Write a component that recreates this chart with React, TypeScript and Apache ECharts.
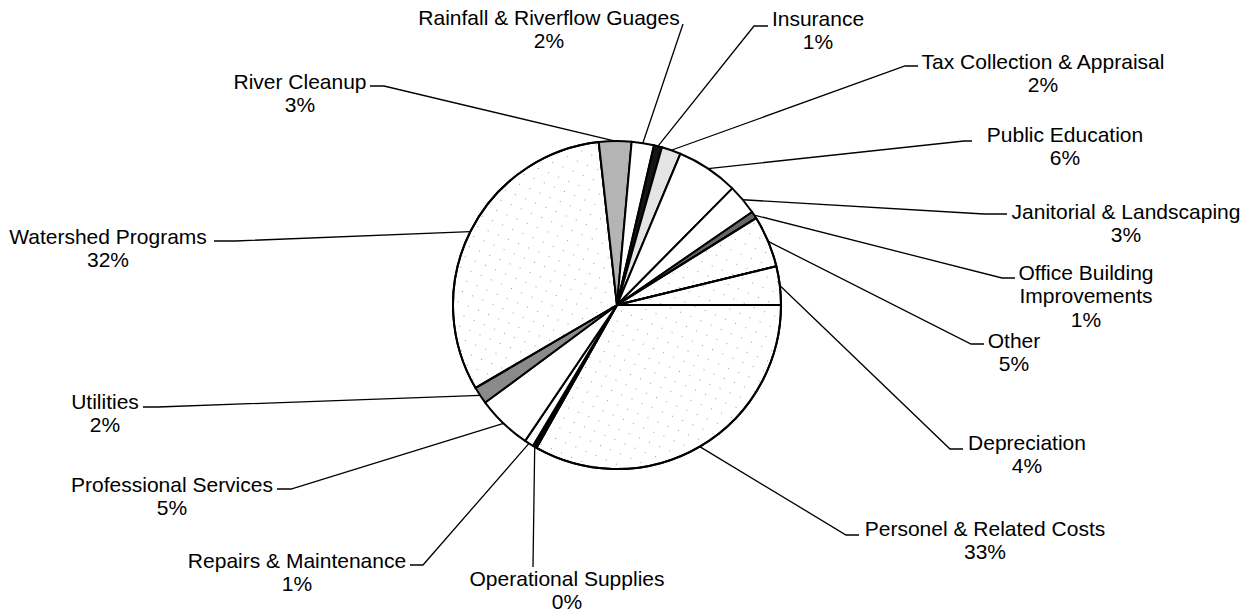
import React, { useEffect, useRef } from 'react';
import * as echarts from 'echarts';

// Slices, clockwise from 3 o'clock
const categories = [
  'Personel & Related Costs',
  'Operational Supplies',
  'Repairs & Maintenance',
  'Professional Services',
  'Utilities',
  'Watershed Programs',
  'River Cleanup',
  'Rainfall & Riverflow Guages',
  'Insurance',
  'Tax Collection & Appraisal',
  'Public Education',
  'Janitorial & Landscaping',
  'Office Building\nImprovements',
  'Other',
  'Depreciation',
];
const values = [33.2, 0.4, 0.9, 5.4, 1.7, 31.7, 3.2, 2.2, 0.8, 1.9, 6.1, 3.0, 0.7, 5.1, 3.8];

// Styling per slice
const sliceColors = ['#ffffff', '#000000', '#ffffff', '#ffffff', '#8a8a8a', '#ffffff', '#b4b4b4', '#ffffff', '#151515', '#e4e4e4', '#ffffff', '#ffffff', '#666666', '#ffffff', '#ffffff'];
const dotted = [true, false, false, false, false, true, false, false, false, false, false, false, false, true, true];

// Label layout: [centerX, firstLineCenterY, anchorX, anchorY, hookDx]
const labelPlacement: number[][] = [
  [985, 528, 859, 535, -13],
  [567, 578, 533, 567, 0],
  [297, 560, 410, 565, 13],
  [172, 484, 277, 489, 14],
  [105, 401, 143, 407, 15],
  [108, 236, 214, 241, 22],
  [300, 81, 370, 86, 14],
  [549, 17, 683, 24, 0],
  [818, 18, 768, 26, -14],
  [1043, 61, 918, 66, -13],
  [1065, 134, 972, 141, -8],
  [1126, 211, 1007, 214, -23],
  [1086, 272, 1015, 278, -13],
  [1014, 340, 984, 344, -13],
  [1027, 442, 963, 449, -13],
];

const CENTER = [617, 305];
const RADIUS = 164;

function midPoint(i: number): number[] {
  const total = values.reduce((a, b) => a + b, 0);
  let acc = 0;
  for (let k = 0; k < i; k++) acc += values[k];
  const mid = ((acc + values[i] / 2) / total) * Math.PI * 2;
  return [CENTER[0] + RADIUS * Math.cos(mid), CENTER[1] + RADIUS * Math.sin(mid)];
}

export default function App() {
  const ref = useRef<HTMLDivElement>(null);
  useEffect(() => {
    document.body.style.margin = '0';
    const chart = echarts.init(ref.current!, undefined, { renderer: 'svg' });
    const dotDecal = {
      symbol: 'rect',
      symbolSize: 1,
      color: 'rgba(120,120,120,0.75)',
      backgroundColor: 'transparent',
      dashArrayX: [1, 10],
      dashArrayY: [1, 10],
      rotation: 0.4,
    };
    const data = categories.map((name, i) => ({
      name,
      value: values[i],
      itemStyle: dotted[i] ? { color: sliceColors[i], decal: dotDecal } : { color: sliceColors[i] },
    }));
    chart.setOption({
      animation: false,
      backgroundColor: '#ffffff',
      series: [
        {
          type: 'pie',
          center: CENTER,
          radius: RADIUS,
          startAngle: 0,
          clockwise: true,
          avoidLabelOverlap: false,
          emphasis: { disabled: true },
          itemStyle: { borderColor: '#000', borderWidth: 2 },
          label: {
            show: true,
            position: 'outside',
            formatter: (p: any) => `${p.name}\n${Math.round(p.percent)}%`,
            fontFamily: '"Liberation Sans", Arial, sans-serif',
            fontSize: 21,
            lineHeight: 23.5,
            color: '#000',
            align: 'center',
          },
          labelLine: { show: true, length: 10, length2: 10, lineStyle: { color: '#000', width: 1.3 } },
          labelLayout: (params: any) => {
            const i = params.dataIndex;
            const [cx, ly, ax, ay, hook] = labelPlacement[i];
            const start = params.labelLinePoints && params.labelLinePoints[0] ? params.labelLinePoints[0] : midPoint(i);
            return {
              x: cx,
              y: ly - 11.75,
              align: 'center',
              verticalAlign: 'top',
              labelLinePoints: [start, [ax + hook, ay], [ax, ay]],
            };
          },
          data,
        },
      ],
    });
    return () => chart.dispose();
  }, []);
  return <div ref={ref} style={{ width: 1253, height: 613 }} />;
}
